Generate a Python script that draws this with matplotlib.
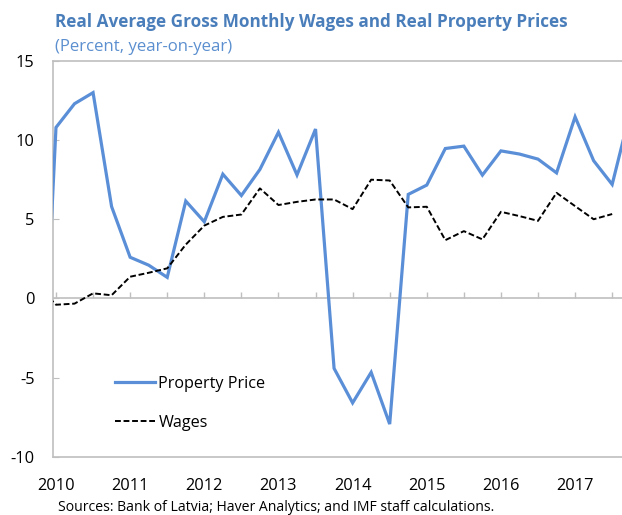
import matplotlib
matplotlib.use("Agg")
import matplotlib.pyplot as plt
import numpy as np
import pandas as pd

plt.rcParams['font.family'] = ['Open Sans', 'DejaVu Sans']

# quarterly data, y/y percent (2009Q4 and 2017Q4 are cut by the axes edges)
prop_quarters = pd.period_range('2009Q4', '2017Q4', freq='Q')
property_price = [-13.4,
                  10.8, 12.3, 13.0, 5.8,
                  2.6, 2.1, 1.33, 6.15,
                  4.84, 7.85, 6.5, 8.15,
                  10.5, 7.8, 10.7, -4.42,
                  -6.6, -4.67, -7.94, 6.57,
                  7.16, 9.47, 9.62, 7.79,
                  9.32, 9.12, 8.8, 7.93,
                  11.47, 8.7, 7.2, 11.9]

wage_quarters = pd.period_range('2009Q4', '2017Q3', freq='Q')
wages = [0.8,
         -0.4, -0.33, 0.32, 0.2,
         1.37, 1.62, 1.9, 3.4,
         4.6, 5.15, 5.3, 6.95,
         5.9, 6.1, 6.25, 6.25,
         5.64, 7.5, 7.45, 5.75,
         5.79, 3.68, 4.25, 3.73,
         5.47, 5.2, 4.9, 6.67,
         5.83, 5.0, 5.33]

years = list(range(2010, 2018))
yticks = [-10, -5, 0, 5, 10, 15]

title = "Real Average Gross Monthly Wages and Real Property Prices"
subtitle = "(Percent, year-on-year)"
source = "Sources: Bank of Latvia; Haver Analytics; and IMF staff calculations."


def qpos(periods):
    # quarters since 2010Q1
    return np.array([(p.year - 2010) * 4 + p.quarter - 1 for p in periods])


grey = '#BFBFBF'
blue = '#5A8FD8'

fig = plt.figure(figsize=(6.22, 5.15), dpi=100)
ax = fig.add_axes([0.0847, 0.1132, 1 - 0.0847, 0.8816 - 0.1132])

ax.axhline(0, color=grey, lw=1.2, zorder=1)
ax.plot(qpos(prop_quarters), property_price, color=blue, lw=2.3,
        label='Property Price', zorder=3, solid_joinstyle='miter')
ax.plot(qpos(wage_quarters), wages, color='black', lw=1.4,
        dashes=(3.0, 1.4), label='Wages', zorder=4)

ax.set_xlim(-0.178, 30.53)
ax.set_ylim(-10, 15)

for s in ['left', 'top', 'bottom']:
    ax.spines[s].set_color(grey)
    ax.spines[s].set_linewidth(1.2)
ax.spines['right'].set_visible(False)

ax.set_yticks(yticks)
ax.set_yticklabels([str(v) for v in yticks])
ax.tick_params(axis='y', direction='in', length=4, color=grey, pad=13,
               labelsize=11.8, labelcolor='black')
ax.set_xticks([(y - 2010) * 4 for y in years])
ax.set_xticklabels([str(y) for y in years])
ax.tick_params(axis='x', length=0, pad=15, labelsize=11.8)

# half-year ticks sitting on the zero line
zero_frac = (0 - (-10)) / 25
sec = ax.secondary_xaxis(zero_frac)
sec.set_xticks(np.arange(0, 32, 2))
sec.tick_params(axis='x', direction='in', length=4, color=grey, width=1.0,
                labelbottom=False, labeltop=False)
for s in sec.spines.values():
    s.set_visible(False)

leg = ax.legend(loc='center left', bbox_to_anchor=(0.1094, 0.135), frameon=False,
                fontsize=11.6, handlelength=2.5, handletextpad=0.2,
                labelspacing=1.42, borderpad=0, borderaxespad=0)

fig.text(0.0884, 0.957, title, color='#4A7EBB', fontsize=12.3, fontweight='bold',
         va='center', ha='left')
fig.text(0.0884, 0.909, subtitle, color='#5B8FCF', fontsize=12.1,
         va='center', ha='left')
fig.text(0.0932, 0.0155, source, color='black', fontsize=10.1,
         va='center', ha='left')

fig.savefig('out.png', dpi=100)
